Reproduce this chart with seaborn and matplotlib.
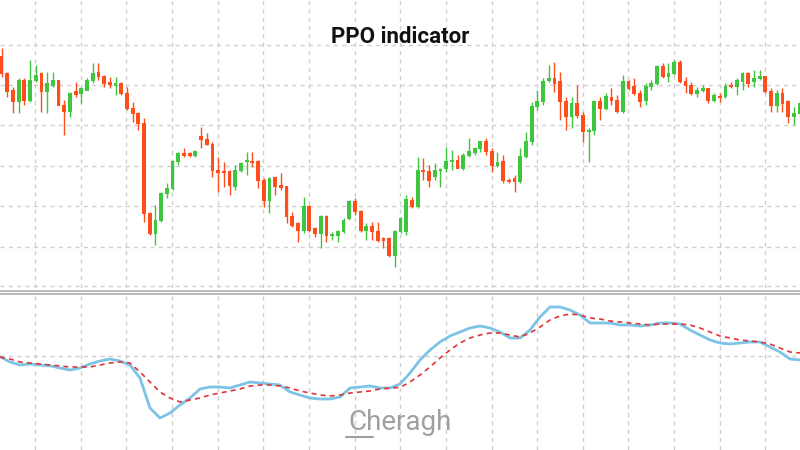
import numpy as np
import pandas as pd
import matplotlib
matplotlib.use("Agg")
import matplotlib.pyplot as plt
import seaborn as sns

opens  = [650,600,550,515,580,520,580,600,545,565,578,505,485,545,540,550,580,603,590,572,565,570,540,495,480,450,180,120,160,240,255,335,360,360,355,410,402,388,308,307,305,260,310,335,335,335,280,220,288,263,260,170,150,130,200,135,120,170,115,115,125,165,215,185,130,142,125,105,105,55,125,
          125,220,200,310,305,290,310,315,335,340,315,355,362,375,395,365,325,335,280,285,275,350,395,500,515,580,585,575,515,470,510,475,425,430,515,495,528,520,485,575,560,540,520,560,570,620,590,600,632,575,565,540,550,555,520,530,530,565,560,575,600,575,585,590,545,505,540,515,470,480]
closes = [600,545,515,580,520,580,595,545,570,578,505,485,540,538,555,580,600,590,570,568,570,540,495,480,450,180,120,160,240,255,335,360,355,355,365,402,388,310,304,304,265,310,330,338,332,280,220,285,260,258,170,145,130,200,130,120,170,115,118,125,160,215,185,130,142,125,100,100,55,125,165,
          222,200,308,305,280,310,312,335,340,315,355,365,375,395,365,325,332,280,275,275,350,395,500,515,575,585,570,515,470,510,475,425,430,515,495,530,520,485,575,555,540,515,560,570,620,590,600,632,575,565,540,550,555,520,535,527,560,560,580,600,570,585,590,545,505,540,510,470,480,510]
highs  = [675,605,560,585,585,640,625,605,605,605,578,520,545,575,560,585,630,632,595,590,590,575,560,515,485,465,185,205,245,270,340,365,375,365,370,440,420,395,350,335,310,325,335,365,365,340,285,290,290,300,260,185,155,230,205,140,175,175,125,130,165,220,225,190,150,155,155,110,110,130,170,
          235,230,350,345,325,330,315,380,370,355,360,405,380,395,405,375,365,355,285,295,375,425,515,550,585,625,635,605,530,530,565,485,435,520,530,540,555,535,595,580,585,550,570,580,625,630,630,640,640,590,575,560,565,555,540,540,570,575,585,605,605,610,610,590,555,550,555,520,500,515]
lows   = [590,530,480,480,505,515,575,485,480,560,505,415,470,530,510,550,570,580,560,555,535,535,490,455,430,155,115,85,155,225,250,325,350,350,350,375,385,290,245,260,235,250,305,295,320,255,200,180,235,250,150,140,95,120,125,110,75,95,100,95,120,160,175,125,100,100,95,75,50,20,120,
          115,195,195,280,260,280,260,305,310,315,310,350,355,365,355,305,320,270,270,245,270,345,385,490,505,575,545,460,430,435,465,395,335,415,460,490,505,480,480,550,535,500,505,550,565,585,575,595,570,540,535,530,545,510,515,515,525,555,535,550,560,560,580,540,485,485,485,450,445,470]

ind_x = list(range(0, 801, 10))
ppo_y = [356.7,362,365,364,365,365.7,368,370,368,364,361,359,361,365,378,408,418,413,405,398,389,387,387,388,385,382,383,384,385,392,395,398,399,399,397,388,387,386,388,388,384,
         373,360,350,342,336,332,328,326,328,332,338,338,330,317,307,307,310,315,323,323,323,325,325,326,325,323,323,324,330,335,340,343,344,343,342,342,347,352,359,360]
sig_y = [357,359,362,363,364,365,366,367,367,367,365,363,362,363,372,382,392,398,402,400,398,395,393,391,389,386,385,385,386,388,391,393,395,396,395,393,392,391,389,388,387.5,
         382,375,367,358,350,343,338,335,333,333,335,337,333,327,320,316,314,315,318,319,321,322,323,324,325,324,324,324,325,328,332,336,338,340,341,342,344,348,352,353]

sns.set_theme(style="white")
plt.rcParams['font.family'] = ['Roboto', 'DejaVu Sans']

fig = plt.figure(figsize=(8, 4.5), dpi=100)
ax = fig.add_axes([0, 1 - 288/450, 1, 288/450])
ax2 = fig.add_axes([0, 0, 1, 155/450])

n = len(closes)
xs = 1.5 + 5.7 * np.arange(n)
o = np.array(opens); c = np.array(closes)
cols = np.where(c >= o, "#3ec63e", "#ff4d1c")
ax.vlines(xs, lows, highs, colors=cols, linewidth=1.0, zorder=3)
ax.bar(xs, np.abs(c - o) + 3, bottom=np.minimum(o, c) - 1.5, width=3.8, color=cols,
       linewidth=0, edgecolor="none", zorder=4)
ax.set_xlim(0, 800)
ax.set_ylim(-44, 820)

vgrid = [35 + 45.65 * k for k in range(17)]
for a in (ax, ax2):
    for v in vgrid:
        a.axvline(v, color="#cfcfcf", lw=1, ls=(0, (3, 3)), zorder=0)
    a.set_xticks([]); a.set_yticks([])
    for s in a.spines.values():
        s.set_visible(False)
for p in [685, 565, 445, 322, 202, 79, -38]:
    ax.axhline(p, color="#cfcfcf", lw=1, ls=(0, (3, 3)), zorder=0)

df = pd.DataFrame({"x": ind_x, "ppo": ppo_y, "sig": sig_y})
sns.lineplot(data=df, x="x", y="ppo", ax=ax2, color="#7cc3e6", lw=2, zorder=3)
sns.lineplot(data=df, x="x", y="sig", ax=ax2, color="#e03535", lw=1.2, ls=(0, (3, 2.5)), zorder=4)
ax2.axhline(356, color="#cfcfcf", lw=1, ls=(0, (3, 3)), zorder=0)
ax2.set_xlim(0, 800)
ax2.set_ylim(450, 295)
ax2.set_xlabel(""); ax2.set_ylabel("")

for yy in (291, 294):
    fig.add_artist(plt.Line2D([0, 1], [1 - yy/450] * 2, color="#b0b0b0", lw=1.2))

fig.text(0.5, 1 - 37/450, "PPO indicator", ha="center", va="center", fontsize=16, fontweight="bold", color="#111111")
fig.text(0.5, 1 - 423/450, "Cheragh", ha="center", va="center", fontsize=20, color="#a0a0a0")
fig.add_artist(plt.Line2D([346/800, 373/800], [1 - 437/450] * 2, color="#a0a0a0", lw=1.5))

fig.savefig("out.png", dpi=100)
